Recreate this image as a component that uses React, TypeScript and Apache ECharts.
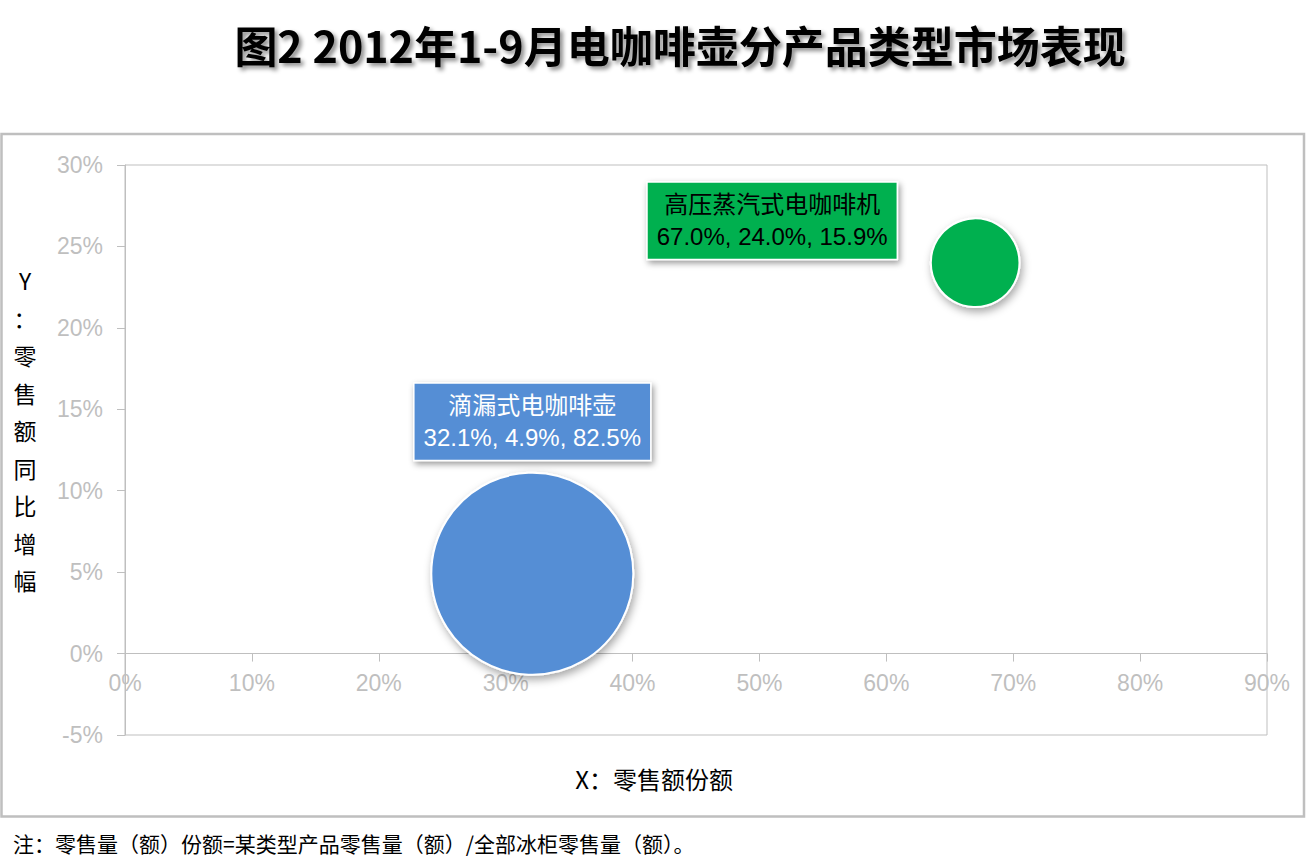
import React, { useEffect, useRef } from "react";
import * as echarts from "echarts";

const names = ["滴漏式电咖啡壶", "高压蒸汽式电咖啡机"];
const shareX = [32.1, 67.0];
const growthY = [4.9, 24.0];
const sizeShare = [82.5, 15.9];
const colors = ["#558ed5", "#00b050"];
const labelTextColors = ["#ffffff", "#000000"];

const xTicks = { min: 0, max: 90, interval: 10 };
const yTicks = { min: -5, max: 30, interval: 5 };

const title = "图2 2012年1-9月电咖啡壶分产品类型市场表现";
const xTitle = "X：零售额份额";
const yTitle = ["Y", "：", "零", "售", "额", "同", "比", "增", "幅"];
const footnote = "注：零售量（额）份额=某类型产品零售量（额）/全部冰柜零售量（额）。";

const fmt = (v: number) => v.toFixed(1) + "%";

export default function App() {
  const ref = useRef<HTMLDivElement>(null);
  useEffect(() => {
    if (!ref.current) return;
    const chart = echarts.init(ref.current, undefined, { renderer: "svg" });
    const maxSize = Math.max(...sizeShare);
    const data = names.map((n, i) => ({
      name: n,
      value: [shareX[i], growthY[i], sizeShare[i]],
      itemStyle: { color: colors[i], opacity: 1 },
      label: {
        show: true,
        color: labelTextColors[i],
        backgroundColor: colors[i],
        ...(i === 0
          ? { position: "top", distance: 12 }
          : { position: "inside", offset: [-203, -42] }),
      },
    }));
    chart.setOption({
      animation: false,
      backgroundColor: "#ffffff",
      grid: {
        left: 125,
        top: 165,
        right: 39,
        bottom: 132,
        show: true,
        borderColor: "#bfbfbf",
        borderWidth: 1,
        backgroundColor: "transparent",
      },
      xAxis: {
        type: "value",
        ...xTicks,
        axisLine: { onZero: true, lineStyle: { color: "#bfbfbf", width: 1 } },
        axisTick: { show: true, length: 8, lineStyle: { color: "#bfbfbf" } },
        axisLabel: {
          formatter: "{value}%",
          color: "#bfbfbf",
          fontSize: 23,
          fontFamily: "Liberation Sans, Arial, sans-serif",
          margin: -64,
        },
        splitLine: { show: false },
      },
      yAxis: {
        type: "value",
        ...yTicks,
        axisLine: { show: true, onZero: false, lineStyle: { color: "#bfbfbf", width: 1 } },
        axisTick: { show: true, length: 8, lineStyle: { color: "#bfbfbf" } },
        axisLabel: {
          formatter: "{value}%",
          color: "#bfbfbf",
          fontSize: 23,
          fontFamily: "Liberation Sans, Arial, sans-serif",
          margin: 22,
        },
        splitLine: { show: false },
      },
      series: [
        {
          type: "scatter",
          data,
          symbol: "circle",
          symbolSize: (val: number[]) => Math.sqrt(val[2] / maxSize) * 202,
          itemStyle: {
            opacity: 1,
            borderColor: "#ffffff",
            borderWidth: 2,
            shadowBlur: 8,
            shadowColor: "rgba(0,0,0,0.35)",
            shadowOffsetX: 2,
            shadowOffsetY: 4,
          },
          label: {
            show: true,
            formatter: (p: any) =>
              p.name + "\n" + fmt(p.value[0]) + ", " + fmt(p.value[1]) + ", " + fmt(p.value[2]),
            fontSize: 24,
            lineHeight: 32,
            fontFamily: "Liberation Sans, Arial, Noto Sans CJK SC, sans-serif",
            align: "center",
            padding: [6, 9, 6, 9],
            borderColor: "#ffffff",
            borderWidth: 1.5,
            shadowBlur: 6,
            shadowColor: "rgba(0,0,0,0.4)",
            shadowOffsetX: 2,
            shadowOffsetY: 3,
          },
          emphasis: { disabled: true },
        },
      ],
      graphic: [
        {
          type: "rect",
          silent: true,
          shape: { x: 1.5, y: 134, width: 1302.5, height: 682.5 },
          style: { fill: "none", stroke: "#bfbfbf", lineWidth: 2.5 },
        },
        {
          type: "text",
          x: 680,
          y: 44,
          style: {
            text: title,
            font: "bold 43px 'Noto Sans CJK SC', sans-serif",
            fill: "#000000",
            align: "center",
            verticalAlign: "middle",
            textShadowColor: "rgba(0,0,0,0.45)",
            textShadowBlur: 4,
            textShadowOffsetX: 3,
            textShadowOffsetY: 3,
          },
        },
        {
          type: "text",
          x: 654,
          y: 778,
          style: {
            text: xTitle,
            font: "24px 'Noto Sans CJK SC', sans-serif",
            fill: "#000000",
            align: "center",
            verticalAlign: "middle",
          },
        },
        {
          type: "text",
          x: 25,
          y: 430,
          style: {
            text: yTitle.join("\n"),
            font: "23px 'Noto Sans CJK SC', sans-serif",
            lineHeight: 37.5,
            fill: "#000000",
            align: "center",
            verticalAlign: "middle",
          },
        },
        {
          type: "text",
          x: 13,
          y: 843,
          style: {
            text: footnote,
            font: "21px 'Noto Sans CJK SC', sans-serif",
            fill: "#000000",
            align: "left",
            verticalAlign: "middle",
          },
        },
      ],
    });
    return () => chart.dispose();
  }, []);
  return (
    <div
      ref={ref}
      style={{ position: "fixed", left: 0, top: 0, width: 1306, height: 867, background: "#fff" }}
    />
  );
}
